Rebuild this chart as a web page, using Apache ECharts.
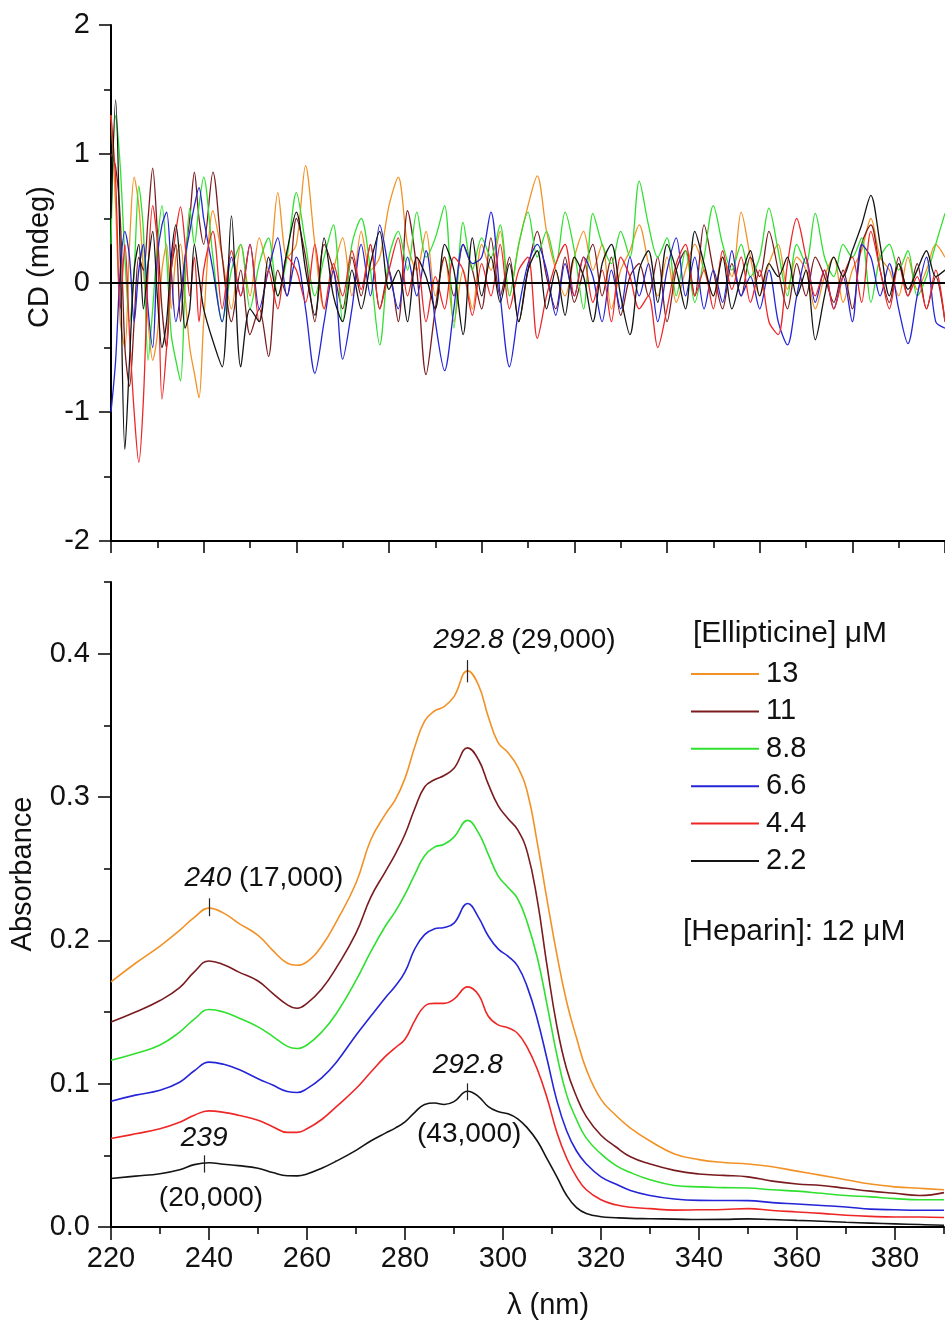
<!DOCTYPE html>
<html>
<head>
<meta charset="utf-8">
<script src="https://cdn.jsdelivr.net/npm/echarts@6/dist/echarts.min.js"></script>
<style>
  html, body { margin: 0; padding: 0; background: #ffffff; }
  #chart { width: 945px; height: 1325px; }
</style>
</head>
<body>
<div id="chart"></div>
<script>
// Ellipticine concentrations (µM), one trace each in both panels
const concentrations = ['13', '11', '8.8', '6.6', '4.4', '2.2'];
const colors = ['#F29226', '#7A1C1F', '#2FE02F', '#2525D8', '#EE2626', '#141414'];

// Absorbance spectra
const absWavelength = [220, 225, 230, 234, 237, 240, 243, 246, 250, 253, 256, 258, 260, 263, 266,
  270, 273, 276, 278, 280, 282, 284, 286, 288, 290, 292.8, 295, 297, 299, 301, 303, 305, 307, 309, 311,
  313, 315, 317, 320, 323, 326, 330, 335, 340, 345, 350, 355, 360, 365, 370, 375, 380, 385, 390];
const abs13 = [0.171, 0.184, 0.196, 0.207, 0.216, 0.2225, 0.219, 0.212, 0.2035, 0.193, 0.184, 0.1826, 0.185, 0.196, 0.213,
  0.240, 0.270, 0.288, 0.298, 0.313, 0.335, 0.353, 0.360, 0.363, 0.370, 0.388, 0.378, 0.356, 0.338, 0.331, 0.321, 0.303, 0.268, 0.228, 0.190,
  0.157, 0.132, 0.110, 0.089, 0.078, 0.069, 0.060, 0.051, 0.047, 0.045, 0.044, 0.042, 0.039, 0.036, 0.033, 0.030, 0.028, 0.027, 0.026];
const abs11 = [0.143, 0.150, 0.158, 0.167, 0.178, 0.1856, 0.183, 0.178, 0.1716, 0.163, 0.155, 0.1526, 0.156, 0.166, 0.181,
  0.205, 0.230, 0.248, 0.260, 0.274, 0.292, 0.307, 0.312, 0.315, 0.320, 0.3343, 0.326, 0.309, 0.294, 0.285, 0.277, 0.261, 0.228, 0.182, 0.140,
  0.110, 0.091, 0.077, 0.064, 0.056, 0.049, 0.044, 0.0395, 0.037, 0.036, 0.035, 0.032, 0.030, 0.029, 0.027, 0.025, 0.0235, 0.022, 0.024];
const abs88 = [0.1163, 0.121, 0.127, 0.136, 0.145, 0.1517, 0.150, 0.146, 0.1396, 0.133, 0.126, 0.1245, 0.127, 0.136, 0.149,
  0.172, 0.192, 0.210, 0.220, 0.232, 0.246, 0.259, 0.265, 0.267, 0.272, 0.2837, 0.275, 0.260, 0.245, 0.237, 0.229, 0.212, 0.188, 0.155, 0.120,
  0.092, 0.075, 0.062, 0.051, 0.043, 0.038, 0.033, 0.029, 0.028, 0.0275, 0.0272, 0.026, 0.025, 0.0235, 0.022, 0.021, 0.0198, 0.019, 0.019];
const abs66 = [0.0877, 0.092, 0.0954, 0.101, 0.109, 0.115, 0.1135, 0.110, 0.1035, 0.099, 0.0945, 0.0938, 0.0965, 0.104, 0.115,
  0.1338, 0.147, 0.160, 0.168, 0.178, 0.194, 0.204, 0.208, 0.209, 0.212, 0.2257, 0.216, 0.203, 0.194, 0.189, 0.182, 0.167, 0.145, 0.117, 0.088,
  0.067, 0.053, 0.044, 0.035, 0.030, 0.0255, 0.022, 0.0195, 0.0186, 0.0185, 0.0184, 0.017, 0.016, 0.015, 0.014, 0.0125, 0.012, 0.0117, 0.0117];
const abs44 = [0.0617, 0.065, 0.0685, 0.073, 0.078, 0.081, 0.080, 0.078, 0.0745, 0.070, 0.066, 0.066, 0.0685, 0.075, 0.084,
  0.0966, 0.108, 0.119, 0.125, 0.131, 0.144, 0.154, 0.156, 0.156, 0.159, 0.1675, 0.162, 0.147, 0.141, 0.139, 0.135, 0.125, 0.110, 0.090, 0.066,
  0.048, 0.035, 0.026, 0.019, 0.0155, 0.0138, 0.0128, 0.0118, 0.012, 0.0122, 0.0128, 0.0115, 0.0105, 0.0095, 0.0082, 0.0074, 0.0070, 0.0070, 0.0066];
const abs22 = [0.0338, 0.0355, 0.0372, 0.040, 0.0435, 0.0448, 0.0438, 0.0428, 0.041, 0.038, 0.0358, 0.0357, 0.037, 0.041, 0.046,
  0.0535, 0.060, 0.0655, 0.069, 0.0733, 0.080, 0.0855, 0.0865, 0.0855, 0.0875, 0.0947, 0.091, 0.084, 0.0805, 0.079, 0.0755, 0.069, 0.060, 0.0475, 0.035,
  0.022, 0.0135, 0.0095, 0.0072, 0.0065, 0.006, 0.0058, 0.0055, 0.0052, 0.0053, 0.0057, 0.0052, 0.0046, 0.004, 0.0033, 0.0027, 0.0022, 0.0017, 0.0012];

// CD spectra (mdeg)
const cdWavelength = [220, 221, 222, 223, 224, 225, 226, 227, 228, 229, 230, 231, 232, 233, 234, 235, 236, 237, 238, 239, 240,
  242, 244, 246, 248, 250, 252, 254, 256, 258, 260,
  262, 264, 266, 268, 270, 272, 274, 276, 278, 280,
  282, 284, 286, 288, 290, 292, 294, 296, 298, 300,
  302, 304, 306, 308, 310, 312, 314, 316, 318, 320,
  322, 324, 326, 328, 330, 332, 334, 336, 338, 340,
  342, 344, 346, 348, 350, 352, 354, 356, 358, 360,
  362, 364, 366, 368, 370, 372, 374, 376, 378, 380,
  382, 384, 386, 388, 390, 392, 394, 396, 398, 400];
const cd13 = [1.3, 0.6, -0.3, -0.5, 0.3, 0.82, 0.6, 0.1, -0.3, -0.6, -0.4, 0.1, 0.3, -0.2, 0.2, 0.3, -0.1, -0.5, -0.7, -0.89, -0.3,
  0.56, 0.2, -0.2, 0.3, -0.1, 0.35, 0.1, 0.7, 0.2, 0.3,
  0.91, 0.3, -0.2, 0.1, 0.35, -0.1, 0.4, 0.1, 0.2, 0.6,
  0.82, 0.3, 0.1, 0.4, -0.1, 0.2, -0.3, 0.1, -0.2, 0.3,
  0.1, 0.4, -0.1, 0.3, 0.6, 0.83, 0.4, 0.1, -0.1, 0.2,
  0.4, 0.1, 0.3, -0.2, 0.1, 0.25, 0.45, 0.15, -0.1, 0.2,
  -0.15, 0.1, 0.3, 0.1, -0.1, 0.2, 0.05, 0.55, 0.2, -0.1,
  0.15, 0.3, -0.05, 0.2, 0.1, -0.2, 0.05, 0.2, -0.15, 0.1,
  0.25, 0.5, 0.2, 0.1, -0.1, 0.2, -0.05, 0.1, 0.3, 0.2];
const cd11 = [1.0, 0.9, 0.5, -0.5, -0.8, -0.3, 0.2, 0.1, 0.5, 0.89, 0.4, -0.2, -0.5, 0.1, 0.3, -0.3, 0.2, 0.5, 0.86, 0.5, 0.3,
  0.86, 0.2, -0.3, 0.1, -0.4, -0.2, -0.57, 0.1, -0.1, 0.5,
  0.2, -0.3, 0.3, 0.1, -0.2, 0.2, -0.1, 0.3, -0.2, 0.1,
  -0.3, 0.56, 0.1, -0.71, -0.2, 0.2, -0.1, 0.3, 0.1, -0.2,
  0.35, -0.1, 0.2, -0.3, 0.1, 0.4, 0.05, -0.2, 0.2, -0.15,
  0.1, 0.3, -0.1, 0.2, -0.25, 0.05, 0.15, -0.1, 0.2, -0.3,
  0.1, 0.25, -0.1, 0.45, 0.1, -0.2, 0.15, -0.1, 0.2, 0.05,
  0.4, 0.1, -0.2, 0.15, -0.1, 0.2, 0.05, -0.15, 0.1, -0.2,
  0.3, 0.45, 0.1, -0.15, 0.2, -0.1, 0.15, -0.2, 0.05, -0.3];
const cd88 = [0.3, 1.3, 0.9, 0.2, -0.3, 0.1, 0.75, 0.4, -0.6, -0.2, 0.3, 0.6, 0.2, -0.4, -0.6, -0.76, 0.0, 0.58, 0.3, 0.6, 0.82,
  0.2, -0.3, 0.1, 0.3, -0.2, 0.15, 0.35, -0.1, 0.2, 0.7,
  0.3, -0.1, 0.2, 0.45, -0.3, 0.3, 0.5, 0.1, -0.48, 0.2,
  0.4, 0.1, 0.55, 0.2, 0.35, 0.6, -0.35, 0.47, 0.1, 0.35,
  0.2, 0.45, -0.1, 0.3, 0.55, 0.2, 0.4, 0.15, 0.55, 0.25,
  -0.2, 0.54, 0.3, 0.15, 0.4, 0.2, 0.79, 0.45, 0.2, 0.35,
  -0.1, 0.25, -0.15, 0.2, 0.6, 0.3, 0.1, 0.3, 0.05, 0.2,
  0.58, 0.25, -0.1, 0.3, 0.15, 0.54, 0.2, 0.05, 0.3, 0.2,
  0.35, -0.15, 0.2, 0.3, 0.1, 0.25, -0.1, 0.05, 0.3, 0.54];
const cd66 = [-1.0, -0.6, 0.1, 0.4, 0.2, -0.3, 0.1, 0.3, -0.2, -0.5, 0.2, 0.45, 0.55, 0.1, -0.3, -0.1, 0.2, 0.4, 0.6, 0.74, 0.5,
  0.1, -0.3, 0.2, -0.1, 0.3, -0.2, 0.1, 0.35, -0.1, 0.2,
  -0.2, -0.7, -0.3, 0.1, -0.59, -0.2, 0.3, -0.1, 0.45, 0.1,
  -0.2, 0.2, -0.1, 0.25, -0.3, -0.68, -0.2, 0.3, 0.15, 0.2,
  0.55, -0.1, -0.65, -0.2, 0.15, 0.3, 0.1, -0.25, 0.15, -0.1,
  0.2, 0.05, -0.3, 0.1, -0.2, 0.2, -0.1, 0.15, -0.3, 0.1,
  0.35, -0.1, 0.2, -0.2, 0.1, -0.15, 0.25, -0.1, 0.05, -0.2,
  0.1, -0.3, -0.48, -0.1, 0.2, -0.15, 0.1, -0.2, 0.05, -0.3,
  0.3, 0.2, -0.1, 0.15, -0.2, -0.47, -0.1, 0.2, -0.3, -0.35];
const cd44 = [1.3, 0.8, -0.2, 0.3, -0.4, -1.0, -1.39, -0.9, 0.1, 0.6, 0.3, -0.9, -0.5, 0.1, 0.4, 0.59, 0.3, -0.1, 0.2, -0.3, 0.1,
  0.4, -0.2, 0.25, -0.1, 0.3, -0.3, 0.1, -0.2, 0.2, 0.1,
  -0.15, 0.3, -0.2, 0.15, -0.1, 0.25, -0.05, 0.3, -0.2, 0.1,
  0.35, -0.1, 0.2, -0.3, 0.05, -0.2, 0.2, 0.1, -0.25, 0.15,
  -0.1, 0.3, -0.2, 0.1, 0.2, -0.43, -0.1, 0.15, 0.3, -0.1,
  0.2, -0.15, 0.1, -0.3, 0.2, 0.05, -0.2, -0.1, -0.5, -0.2,
  0.15, 0.3, -0.1, 0.1, -0.2, 0.25, -0.05, 0.2, -0.15, 0.1,
  -0.3, -0.4, 0.15, 0.5, 0.2, -0.1, 0.1, -0.2, 0.05, 0.2,
  -0.15, 0.4, 0.1, -0.2, 0.15, -0.1, 0.05, -0.2, 0.1, -0.3];
const cd22 = [0.5, 1.42, 0.2, -1.29, -0.6, 0.1, 0.3, -0.2, 0.15, 0.4, -0.1, -0.5, -0.3, 0.2, 0.45, 0.1, -0.35, -0.2, 0.3, 0.05, -0.2,
  -0.45, -0.65, 0.52, -0.65, -0.2, -0.3, 0.2, -0.1, 0.25, 0.55,
  0.1, -0.25, 0.35, -0.1, -0.3, 0.1, -0.2, 0.15, 0.4, -0.05,
  0.1, -0.3, 0.2, 0.05, -0.2, 0.3, 0.1, -0.4, 0.35, -0.1,
  0.2, -0.15, 0.15, -0.3, 0.1, 0.25, -0.2, 0.1, -0.25, 0.2,
  0.05, -0.3, 0.15, 0.3, -0.1, -0.4, 0.1, 0.25, -0.15, 0.3,
  0.1, -0.2, 0.4, 0.15, -0.1, 0.2, -0.2, 0.05, 0.25, -0.1,
  0.15, 0.05, 0.2, -0.1, 0.1, -0.44, -0.1, 0.2, 0.05, 0.25,
  0.45, 0.68, 0.3, -0.1, 0.15, -0.05, 0.1, 0.25, 0.05, 0.1];

// Axis ticks
const wlMajorTicks = [220, 240, 260, 280, 300, 320, 340, 360, 380];
const absMajorTicks = [0, 0.1, 0.2, 0.3, 0.4];

// Annotated band maxima
const bandMain = 292.8;
const band13 = 240;
const band22 = 239;

const FONT = '"Liberation Sans", Arial, Helvetica, sans-serif';
const INK = '#111111';

function pairs(xs, ys) { return xs.map((x, i) => [x, ys[i]]); }

const absSets = [abs13, abs11, abs88, abs66, abs44, abs22];
const cdSets = [cd13, cd11, cd88, cd66, cd44, cd22];

const labelStyle = {
  show: true, position: 'inside', color: INK, fontFamily: FONT, fontSize: 28,
  rich: { i: { fontStyle: 'italic', fontFamily: FONT, fontSize: 28, color: INK } }
};
const peakTick = { color: '#222222', width: 1.2, type: 'solid' };

const series = [];

cdSets.forEach((vals, k) => {
  series.push({
    name: concentrations[k], type: 'line', xAxisIndex: 0, yAxisIndex: 0,
    data: pairs(cdWavelength, vals), showSymbol: false, smooth: 0.3,
    lineStyle: { color: colors[k], width: 1.3 }, itemStyle: { color: colors[k] }
  });
});

// zero baseline of the CD panel
series.push({
  type: 'line', xAxisIndex: 0, yAxisIndex: 0, data: [[220, 0], [400, 0]],
  showSymbol: false, lineStyle: { color: '#000', width: 2.2 }, z: 5, silent: true
});

absSets.forEach((vals, k) => {
  const s = {
    name: concentrations[k], type: 'line', xAxisIndex: 1, yAxisIndex: 1,
    data: pairs(absWavelength, vals), showSymbol: false, smooth: 0.45,
    lineStyle: { color: colors[k], width: 1.6 }, itemStyle: { color: colors[k] }
  };
  if (k === 0) {
    s.markLine = {
      silent: true, symbol: ['none', 'none'], label: { show: false }, lineStyle: peakTick,
      data: [
        [{ coord: [bandMain, 0.380] }, { coord: [bandMain, 0.3955] }],
        [{ coord: [band13, 0.2168] }, { coord: [band13, 0.2293] }]
      ]
    };
    s.markPoint = {
      silent: true, symbolSize: 0, label: labelStyle,
      data: [
        { coord: [304.4, 0.4094], label: { formatter: '{i|' + bandMain + '} (29,000)' } },
        { coord: [251.2, 0.2433], label: { formatter: '{i|' + band13 + '} (17,000)' } }
      ]
    };
  }
  if (k === 5) {
    s.markLine = {
      silent: true, symbol: ['none', 'none'], label: { show: false }, lineStyle: peakTick,
      data: [
        [{ coord: [bandMain, 0.0884] }, { coord: [bandMain, 0.1002] }],
        [{ coord: [band22, 0.038] }, { coord: [band22, 0.050] }]
      ]
    };
    s.markPoint = {
      silent: true, symbolSize: 0, label: labelStyle,
      data: [
        { coord: [bandMain, 0.1128], label: { formatter: '{i|' + bandMain + '}' } },
        { coord: [293.1, 0.0647], label: { formatter: '(43,000)' } },
        { coord: [band22, 0.0619], label: { formatter: '{i|' + band22 + '}' } },
        { coord: [240.4, 0.020], label: { formatter: '(20,000)' } }
      ]
    };
  }
  series.push(s);
});

const axisLine = { show: true, onZero: false, lineStyle: { color: '#000', width: 2 } };
const tickLabel = { color: INK, fontFamily: FONT, fontSize: 29 };

const option = {
  animation: false,
  backgroundColor: '#ffffff',
  grid: [
    { left: 111, top: 25, width: 834, height: 516, outerBoundsMode: 'none' },
    { left: 111, top: 582, width: 833, height: 645, outerBoundsMode: 'none' }
  ],
  xAxis: [
    { gridIndex: 0, type: 'value', position: 'bottom', min: 220, max: 400, interval: 20,
      axisLine, splitLine: { show: false },
      axisTick: { show: true, length: 12, lineStyle: { color: '#000', width: 1.5 } },
      minorTick: { show: true, splitNumber: 2, length: 7, lineStyle: { color: '#000', width: 1.5 } },
      axisLabel: { show: false } },
    { gridIndex: 1, type: 'value', position: 'bottom', min: 220, max: 390, interval: 10,
      axisLine, splitLine: { show: false },
      axisTick: { show: true, length: 7, lineStyle: { color: '#000', width: 1.5 } },
      axisLabel: { show: false } },
    { gridIndex: 1, type: 'value', position: 'bottom', min: 220, max: 390, interval: 20,
      axisLine: { show: false }, splitLine: { show: false },
      axisTick: { show: true, length: 13, customValues: wlMajorTicks, lineStyle: { color: '#000', width: 1.5 } },
      axisLabel: Object.assign({ margin: 17, customValues: wlMajorTicks }, tickLabel) }
  ],
  yAxis: [
    { gridIndex: 0, type: 'value', position: 'left', min: -2, max: 2, interval: 1,
      axisLine, splitLine: { show: false },
      axisTick: { show: true, length: 12, lineStyle: { color: '#000', width: 1.5 } },
      minorTick: { show: true, splitNumber: 2, length: 7, lineStyle: { color: '#000', width: 1.5 } },
      axisLabel: Object.assign({ margin: 21 }, tickLabel) },
    { gridIndex: 1, type: 'value', position: 'left', min: 0, max: 0.45, interval: 0.05,
      axisLine, splitLine: { show: false },
      axisTick: { show: true, length: 7, lineStyle: { color: '#000', width: 1.5 } },
      axisLabel: { show: false } },
    { gridIndex: 1, type: 'value', position: 'left', min: 0, max: 0.45, interval: 0.1,
      axisLine: { show: false }, splitLine: { show: false },
      axisTick: { show: true, length: 13, customValues: absMajorTicks, lineStyle: { color: '#000', width: 1.5 } },
      axisLabel: Object.assign({ margin: 21, customValues: absMajorTicks, formatter: v => v.toFixed(1) }, tickLabel) }
  ],
  legend: {
    data: concentrations, orient: 'vertical', left: 686, top: 654,
    icon: 'rect', itemWidth: 68, itemHeight: 2, itemGap: 7.4,
    itemStyle: { borderWidth: 0 },
    textStyle: { color: INK, fontFamily: FONT, fontSize: 29, lineHeight: 30, padding: [0, 0, 0, 2] },
    selectedMode: false
  },
  graphic: [
    { type: 'text', x: 40, y: 257, rotation: Math.PI / 2,
      style: { text: 'CD (mdeg)', fill: INK, font: '29px ' + FONT, textAlign: 'center', textVerticalAlign: 'middle' } },
    { type: 'text', x: 23, y: 874, rotation: Math.PI / 2,
      style: { text: 'Absorbance', fill: INK, font: '29px ' + FONT, textAlign: 'center', textVerticalAlign: 'middle' } },
    { type: 'text', x: 548, y: 1306,
      style: { text: 'λ (nm)', fill: INK, font: '29px ' + FONT, textAlign: 'center', textVerticalAlign: 'middle' } },
    { type: 'text', x: 693, y: 634,
      style: { text: '[Ellipticine] μM', fill: INK, font: '30px ' + FONT, textAlign: 'left', textVerticalAlign: 'middle' } },
    { type: 'text', x: 683, y: 932,
      style: { text: '[Heparin]: 12 μM', fill: INK, font: '30px ' + FONT, textAlign: 'left', textVerticalAlign: 'middle' } }
  ],
  series
};

const chart = echarts.init(document.getElementById('chart'), null, { renderer: 'canvas' });
chart.setOption(option);
</script>
</body>
</html>
